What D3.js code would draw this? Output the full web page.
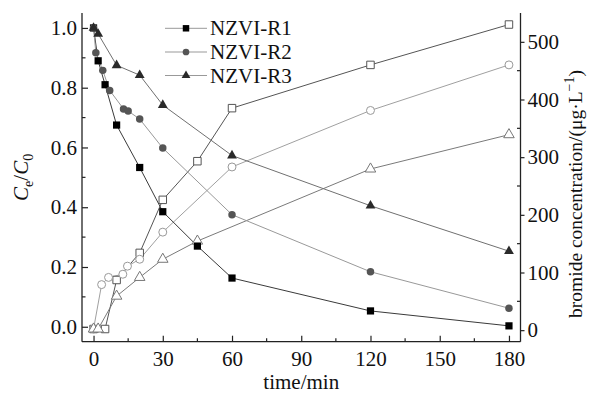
<!DOCTYPE html>
<html>
<head>
<meta charset="utf-8">
<script src="https://cdn.jsdelivr.net/npm/d3@7/dist/d3.min.js"></script>
<style>
  html, body { margin: 0; padding: 0; background: #fff; }
  svg { display: block; }
  text { font-family: "Liberation Serif", "Tinos", "Times New Roman", "DejaVu Serif", serif; fill: #111; }
</style>
</head>
<body>
<svg id="chart" width="590" height="394"></svg>
<script>
// ---- data ----
const seriesNames = ["NZVI-R1", "NZVI-R2", "NZVI-R3"];

// C/C0 (left axis, filled markers)
const timeR1 = [0, 2, 5, 10, 20, 30, 45, 60, 120, 180];
const ratioR1 = [1.0, 0.89, 0.81, 0.675, 0.533, 0.385, 0.27, 0.163, 0.053, 0.003];
const timeR2 = [0, 1, 4, 7, 13, 15, 20, 30, 60, 120, 180];
const ratioR2 = [1.0, 0.917, 0.858, 0.791, 0.729, 0.722, 0.695, 0.598, 0.375, 0.184, 0.062];
const timeR3 = [0, 2, 10, 20, 30, 60, 120, 180];
const ratioR3 = [1.0, 0.98, 0.875, 0.842, 0.742, 0.573, 0.405, 0.253];

// bromide concentration (right axis, hollow markers), µg/L
const bromTimeR1 = [0, 5, 10, 20, 30, 45, 60, 120, 180];
const bromR1 = [2, 2, 87, 134, 226, 293, 385, 460, 530];
const bromTimeR2 = [0, 3.5, 6.5, 12.7, 14.7, 20, 30, 60, 120, 180];
const bromR2 = [2, 79, 91.5, 97, 111, 123, 170, 283, 381, 460];
const bromTimeR3 = [0, 2, 10, 20, 30, 45, 120, 180];
const bromR3 = [2, 2, 59, 91.5, 123, 154.5, 279.5, 339];

// ticks
const xTicks = [0, 30, 60, 90, 120, 150, 180];
const xMinor = [15, 45, 75, 105, 135, 165];
const yLeftTicks = [0.0, 0.2, 0.4, 0.6, 0.8, 1.0];
const yLeftMinor = [0.1, 0.3, 0.5, 0.7, 0.9];
const yRightTicks = [0, 100, 200, 300, 400, 500];
const yRightMinor = [50, 150, 250, 350, 450];

// ---- layout ----
const svg = d3.select("#chart");
const L = 82, R = 520.5, T = 13, B = 341.7;

const x = d3.scaleLinear().domain([-5, 185]).range([L, R]);
const yL = d3.scaleLinear().domain([-0.05, 1.05]).range([B, T]);
const yR = d3.scaleLinear().domain([-20, 550]).range([B, T]);

const FS = 21;

// styles per series
const filledStyle = [
  {shape: d3.symbolSquare, size: 52, fill: "#000", line: "#3a3a3a"},
  {shape: d3.symbolCircle, size: 44, fill: "#555", line: "#999"},
  {shape: d3.symbolTriangle, size: 42, fill: "#2a2a2a", line: "#707070"}
];
const hollowStyle = [
  {shape: d3.symbolSquare, size: 56, stroke: "#555", line: "#555"},
  {shape: d3.symbolCircle, size: 50, stroke: "#999", line: "#a0a0a0"},
  {shape: d3.symbolTriangle, size: 48, stroke: "#777", line: "#7a7a7a"}
];

function pts(ts, vs) { return ts.map((t, i) => [t, vs[i]]); }

const hollowData = [pts(bromTimeR1, bromR1), pts(bromTimeR2, bromR2), pts(bromTimeR3, bromR3)];
const filledData = [pts(timeR1, ratioR1), pts(timeR2, ratioR2), pts(timeR3, ratioR3)];

hollowData.forEach((d, i) => {
  const st = hollowStyle[i];
  svg.append("path")
    .attr("d", d3.line().x(p => x(p[0])).y(p => yR(p[1]))(d))
    .attr("fill", "none").attr("stroke", st.line).attr("stroke-width", 1);
});
filledData.forEach((d, i) => {
  const st = filledStyle[i];
  svg.append("path")
    .attr("d", d3.line().x(p => x(p[0])).y(p => yL(p[1]))(d))
    .attr("fill", "none").attr("stroke", st.line).attr("stroke-width", 1);
});
hollowData.forEach((d, i) => {
  const st = hollowStyle[i];
  svg.append("g").selectAll("path").data(d).join("path")
    .attr("d", d3.symbol().type(st.shape).size(st.size))
    .attr("transform", p => `translate(${x(p[0])},${yR(p[1])})`)
    .attr("fill", "#fff").attr("stroke", st.stroke).attr("stroke-width", 1);
});
filledData.forEach((d, i) => {
  const st = filledStyle[i];
  svg.append("g").selectAll("path").data(d).join("path")
    .attr("d", d3.symbol().type(st.shape).size(st.size))
    .attr("transform", p => `translate(${x(p[0])},${yL(p[1])})`)
    .attr("fill", st.fill).attr("stroke", "none");
});

// ---- axes ----
const axisColor = "#222";
const gx = svg.append("g").attr("transform", `translate(0,${B})`)
  .call(d3.axisBottom(x).tickValues(xTicks).tickSize(-6).tickPadding(9.5).tickFormat(d3.format("d")));
gx.append("g").selectAll("line").data(xMinor).join("line")
  .attr("x1", d => x(d)).attr("x2", d => x(d)).attr("y1", 0).attr("y2", -3.5);
const gyl = svg.append("g").attr("transform", `translate(${L},0)`)
  .call(d3.axisLeft(yL).tickValues(yLeftTicks).tickSize(-6).tickPadding(5).tickFormat(d3.format(".1f")));
gyl.append("g").selectAll("line").data(yLeftMinor).join("line")
  .attr("y1", d => yL(d)).attr("y2", d => yL(d)).attr("x1", 0).attr("x2", 3.5);
const gyr = svg.append("g").attr("transform", `translate(${R},0)`)
  .call(d3.axisRight(yR).tickValues(yRightTicks).tickSize(4).tickPadding(3).tickFormat(d3.format("d")));
gyr.append("g").selectAll("line").data(yRightMinor).join("line")
  .attr("y1", d => yR(d)).attr("y2", d => yR(d)).attr("x1", 0).attr("x2", -3.5);

[gx, gyl, gyr].forEach(g => {
  g.attr("font-family", null);
  g.select(".domain").attr("stroke", axisColor).attr("stroke-width", 1.3);
  g.selectAll("line").attr("stroke", axisColor).attr("stroke-width", 1.2);
  g.selectAll("text").attr("font-size", FS).attr("fill", "#111");
});
gx.select(".domain").attr("d", `M${L},0H${R}`);
gyl.select(".domain").attr("d", `M0,${T}V${B}`);
gyr.select(".domain").attr("d", `M0,${T}V${B}`);

// ---- axis titles ----
svg.append("text").attr("x", (L + R) / 2).attr("y", 389)
  .attr("text-anchor", "middle").attr("font-size", FS).text("time/min");

const lt = svg.append("text").attr("transform", `translate(28,${(T + B) / 2}) rotate(-90)`)
  .attr("text-anchor", "middle").attr("font-size", FS);
lt.append("tspan").attr("font-style", "italic").text("C");
lt.append("tspan").attr("font-size", 14).attr("dy", 5).text("e");
lt.append("tspan").attr("dy", -5).text("/");
lt.append("tspan").attr("font-style", "italic").text("C");
lt.append("tspan").attr("font-size", 14).attr("dy", 5).text("0");

const rt = svg.append("text").attr("transform", `translate(582,194) rotate(-90)`)
  .attr("text-anchor", "middle").attr("font-size", 19.5);
rt.append("tspan").text("bromide concentration/(μg·L");
rt.append("tspan").attr("font-size", 14).attr("dy", -8).text("−1");
rt.append("tspan").attr("dy", 8).text(")");

// ---- legend ----
const legendRows = [28.3, 52, 75.5];
seriesNames.forEach((name, i) => {
  const st = filledStyle[i];
  const g = svg.append("g").attr("transform", `translate(0,${legendRows[i]})`);
  g.append("line").attr("x1", 165).attr("x2", 207).attr("y1", 0).attr("y2", 0)
    .attr("stroke", "#999").attr("stroke-width", 1);
  g.append("path").attr("d", d3.symbol().type(st.shape).size(st.size * 0.8))
    .attr("transform", "translate(186,0)").attr("fill", st.fill);
  g.append("text").attr("x", 210).attr("y", 7).attr("font-size", FS).text(name);
});
</script>
</body>
</html>
